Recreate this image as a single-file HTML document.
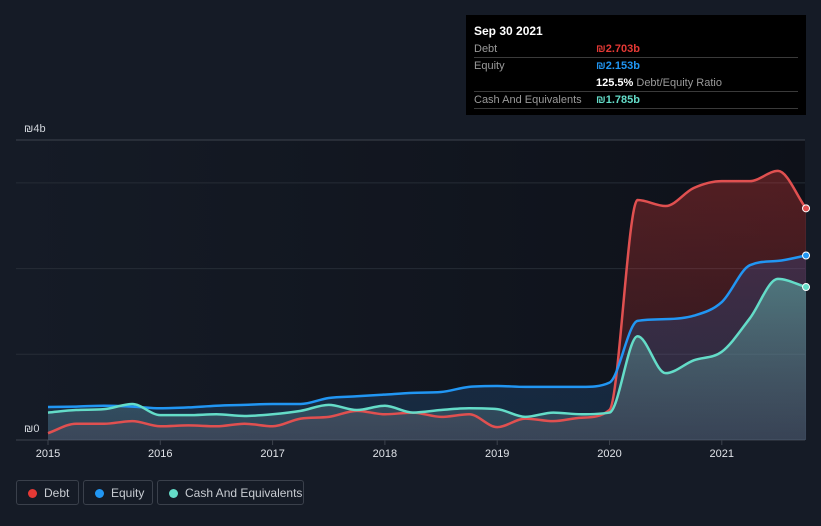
<!DOCTYPE html>
<html><head><meta charset="utf-8">
<style>
html,body{margin:0;padding:0;background:#151b26;width:821px;height:526px;overflow:hidden;font-family:"Liberation Sans",sans-serif;}
#chart{position:absolute;left:0;top:0;}
.tip{position:absolute;left:466px;top:15px;width:340px;height:100px;background:#000;color:#fff;font-size:11px;}
.tip .row{position:absolute;left:8px;width:324px;height:17px;border-bottom:1px solid #3a3a3a;}
.tip .lab{position:absolute;left:0;top:3px;color:#9a9a9a;}
.tip .val{position:absolute;left:122px;top:3px;font-weight:bold;}
.legend{position:absolute;top:480px;height:25px;border:1px solid #3a404b;border-radius:3px;color:#c8ccd2;font-size:12px;box-sizing:border-box;}
.legend .dot{position:absolute;left:11px;top:8px;width:9px;height:9px;border-radius:50%;}
.legend span.t{position:absolute;left:27px;top:5px;}
</style></head><body>
<svg id="chart" width="821" height="526">
<defs>
<linearGradient id="gDebt" x1="0" y1="0" x2="0" y2="1"><stop offset="0" stop-color="#e53935" stop-opacity="0.32"/><stop offset="1" stop-color="#e53935" stop-opacity="0.12"/></linearGradient>
<linearGradient id="gEq" x1="0" y1="0" x2="0" y2="1"><stop offset="0" stop-color="#3a4a8a" stop-opacity="0.35"/><stop offset="1" stop-color="#1e5a8a" stop-opacity="0.3"/></linearGradient>
<linearGradient id="gCash" x1="0" y1="0" x2="0" y2="1"><stop offset="0" stop-color="#5fbfb4" stop-opacity="0.5"/><stop offset="1" stop-color="#5a7080" stop-opacity="0.35"/></linearGradient>
<linearGradient id="gBg" x1="0" y1="0" x2="1" y2="0"><stop offset="0" stop-color="#151b26"/><stop offset="1" stop-color="#0e1119"/></linearGradient>
</defs>
<rect x="16" y="140" width="789" height="300" fill="url(#gBg)"/>
<g id="grid"></g><g id="areas"></g><g id="lines"></g><g id="xt"></g>
</svg>
<div class="tip">
 <div style="position:absolute;left:8px;top:9px;font-size:12px;font-weight:bold;">Sep 30 2021</div>
 <div class="row" style="top:25px"><span class="lab">Debt</span><span class="val" style="color:#e53935">₪2.703b</span></div>
 <div class="row" style="top:42px;border:none"><span class="lab">Equity</span><span class="val" style="color:#2196f3">₪2.153b</span></div>
 <div class="row" style="top:59px"><span class="val" style="color:#fff">125.5% <span style="color:#9a9a9a;font-weight:normal">Debt/Equity Ratio</span></span></div>
 <div class="row" style="top:76px"><span class="lab">Cash And Equivalents</span><span class="val" style="color:#64dcc8">₪1.785b</span></div>
</div>
<div class="legend" style="left:16px;width:63px"><div class="dot" style="background:#e53935"></div><span class="t">Debt</span></div>
<div class="legend" style="left:83px;width:70px"><div class="dot" style="background:#2196f3"></div><span class="t">Equity</span></div>
<div class="legend" style="left:157px;width:147px"><div class="dot" style="background:#64dcc8"></div><span class="t">Cash And Equivalents</span></div>
<script>
const dates=[2015,2015.25,2015.5,2015.75,2016,2016.25,2016.5,2016.75,2017,2017.25,2017.5,2017.75,2018,2018.25,2018.5,2018.75,2019,2019.25,2019.5,2019.75,2020,2020.25,2020.5,2020.75,2021,2021.25,2021.5,2021.75];
const debt=[0.08,0.19,0.19,0.22,0.16,0.17,0.16,0.19,0.16,0.25,0.27,0.34,0.30,0.32,0.27,0.30,0.15,0.25,0.22,0.26,0.35,2.80,2.73,2.94,3.02,3.02,3.14,2.703];
const equity=[0.385,0.39,0.40,0.39,0.37,0.38,0.40,0.41,0.42,0.42,0.49,0.51,0.53,0.55,0.56,0.62,0.63,0.62,0.62,0.62,0.67,1.39,1.41,1.45,1.61,2.04,2.09,2.153];
const cash=[0.32,0.35,0.36,0.42,0.29,0.29,0.30,0.28,0.30,0.34,0.41,0.35,0.40,0.32,0.35,0.37,0.36,0.27,0.32,0.30,0.32,1.21,0.78,0.93,1.03,1.42,1.88,1.785];
const xTicks=[2015,2016,2017,2018,2019,2020,2021];
const yGrid=[0,1,2,3,3.5];
const X=d=>48+(d-2015)*112.3, Y=v=>440-v*85.7;
const NS="http://www.w3.org/2000/svg";
function mk(tag,attrs,parent){const e=document.createElementNS(NS,tag);for(const k in attrs)e.setAttribute(k,attrs[k]);parent.appendChild(e);return e;}
function path(vals){const p=dates.map((d,i)=>[X(d),Y(vals[i])]);const n=p.length;const m=[];
 const s=[];for(let i=0;i<n-1;i++)s.push((p[i+1][1]-p[i][1])/(p[i+1][0]-p[i][0]));
 for(let i=0;i<n;i++){if(i==0)m.push(s[0]);else if(i==n-1)m.push(s[n-2]);else m.push(s[i-1]*s[i]<=0?0:(s[i-1]+s[i])/2);}
 for(let i=0;i<n-1;i++){if(s[i]==0){m[i]=0;m[i+1]=0;continue;}const a=m[i]/s[i],b=m[i+1]/s[i];const h=a*a+b*b;if(h>9){const t=3/Math.sqrt(h);m[i]=t*a*s[i];m[i+1]=t*b*s[i];}}
 let d="M"+p[0][0]+","+p[0][1];
 for(let i=0;i<n-1;i++){const dx=(p[i+1][0]-p[i][0])/3;d+=` C${p[i][0]+dx},${p[i][1]+m[i]*dx} ${p[i+1][0]-dx},${p[i+1][1]-m[i+1]*dx} ${p[i+1][0]},${p[i+1][1]}`;}
 return d;}
const grid=document.getElementById('grid');
yGrid.forEach(v=>{const l=mk('line',{x1:16,x2:805,y1:Y(v),y2:Y(v),stroke:v==0||v==3.5?'#3d434d':'#262c36','stroke-width':1},grid);

});
const t4=mk('text',{x:24,y:132,fill:'#d0d4da','font-size':11},grid);t4.textContent='₪4b';


const t0=mk('text',{x:24,y:432,fill:'#d0d4da','font-size':11},grid);t0.textContent='₪0';


const xt=document.getElementById('xt');
xTicks.forEach(t=>{mk('line',{x1:X(t),x2:X(t),y1:440,y2:445,stroke:'#3d434d'},xt);
const tx=mk('text',{x:X(t),y:457,fill:'#e0e3e8','font-size':11,'text-anchor':'middle'},xt);tx.textContent=t;

});
const areas=document.getElementById('areas'),lines=document.getElementById('lines');
const base=` L${X(dates[dates.length-1])},440 L${X(dates[0])},440 Z`;
const series=[[debt,'#e53935','url(#gDebt)','debt'],[equity,'#2196f3','url(#gEq)','equity'],[cash,'#64dcc8','url(#gCash)','cash']];
series.forEach(([v,c,f,nm])=>{const a=mk('path',{d:path(v)+base,fill:f},areas);

});
[[debt,'#e05050','debt'],[equity,'#2196f3','equity'],[cash,'#64dcc8','cash']].forEach(([v,c,nm])=>{
const l=mk('path',{d:path(v),fill:'none',stroke:c,'stroke-width':2.5},lines);


const e=mk('circle',{cx:X(dates[dates.length-1]),cy:Y(v[v.length-1]),r:3.5,fill:c,stroke:'#fff','stroke-width':1},lines);

});
</script>
</body></html>
